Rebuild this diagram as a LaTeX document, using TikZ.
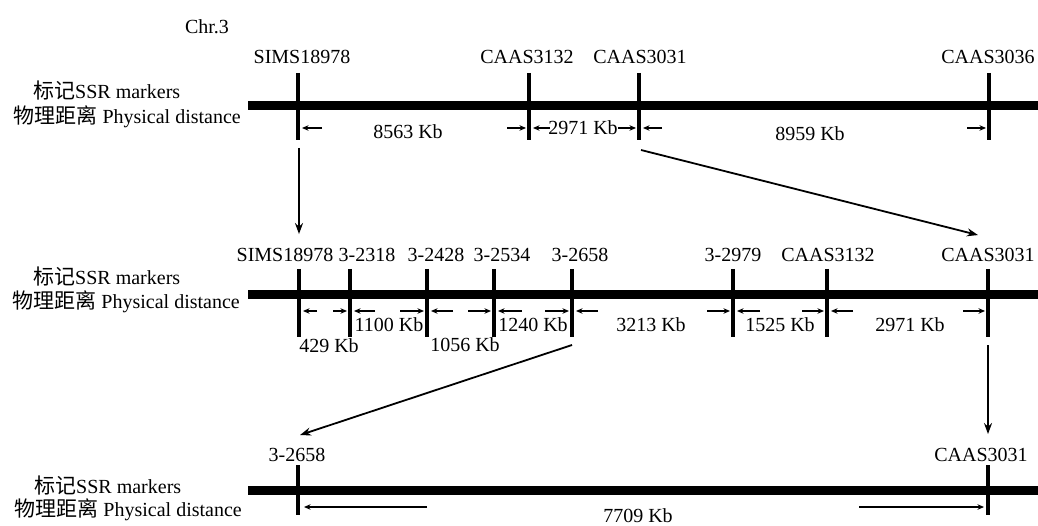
\documentclass[tikz,border=0pt]{standalone}
\usepackage{fontspec}
\setmainfont{Liberation Serif}
\newfontfamily\cjk{Noto Sans CJK SC}[Scale=1.05]
\usetikzlibrary{arrows.meta,calc}

\begin{document}
\begin{tikzpicture}[x=1pt,y=-1pt,
  every node/.style={inner sep=1pt,font=\fontsize{20}{24}\selectfont},
  chrom/.style={line width=9pt},
  mtick/.style={line width=4.2pt},
  dist/.style={-{Stealth[length=6.5pt,width=5.5pt]},line width=1.3pt},
  link/.style={-{Stealth[length=11pt,width=8pt]},line width=1.8pt}]
\useasboundingbox (0,0) rectangle (1038,526);

\node (chr) at (207,27) {Chr.3};

% row 1
\node[anchor=west] (r1a) at (32,91) {{\cjk 标记}SSR markers};
\node[anchor=east] (r1b) at (242,117) {{\cjk 物理距离} Physical distance};
\draw[chrom] (248,106) -- (1040,106);
\node (t1) at (302,57) {SIMS18978};
\node (t2) at (527,57) {CAAS3132};
\node (t3) at (640,57) {CAAS3031};
\node (t4) at (988,57) {CAAS3036};
\coordinate (a1) at (298,128);
\coordinate (a2) at (529,128);
\coordinate (a3) at (639,128);
\coordinate (a4) at (989,128);
\draw[mtick] (298,73) -- (298,140);
\draw[mtick] (529,73) -- (529,140);
\draw[mtick] (639,73) -- (639,140);
\draw[mtick] (989,73) -- (989,140);
\draw[dist] ([xshift=24pt]a1) -- ([xshift=4pt]a1);
\draw[dist] ([xshift=-22pt]a2) -- ([xshift=-3pt]a2);
\draw[dist] ([xshift=21pt]a2) -- ([xshift=4pt]a2);
\draw[dist] ([xshift=-21pt]a3) -- ([xshift=-3pt]a3);
\draw[dist] ([xshift=23pt]a3) -- ([xshift=4pt]a3);
\draw[dist] ([xshift=-22pt]a4) -- ([xshift=-3pt]a4);
\node (d1) at (408,132) {8563 Kb};
\node (d2) at (583,128) {2971 Kb};
\node (d3) at (810,134) {8959 Kb};

% row 2
\node[anchor=west] (r2a) at (32,277) {{\cjk 标记}SSR markers};
\node[anchor=east] (r2b) at (241,302) {{\cjk 物理距离} Physical distance};
\draw[chrom] (248,295) -- (1040,295);
\node (m1) at (285,255) {SIMS18978};
\node (m2) at (367,255) {3-2318};
\node (m3) at (436,255) {3-2428};
\node (m4) at (502,255) {3-2534};
\node (m5) at (580,255) {3-2658};
\node (m6) at (733,255) {3-2979};
\node (m7) at (828,255) {CAAS3132};
\node (m8) at (988,255) {CAAS3031};
\coordinate (b1) at (299,311);
\coordinate (b2) at (350,311);
\coordinate (b3) at (427,311);
\coordinate (b4) at (494,311);
\coordinate (b5) at (572,311);
\coordinate (b6) at (733,311);
\coordinate (b7) at (827,311);
\coordinate (b8) at (988,311);
\draw[mtick] (299,269) -- (299,337);
\draw[mtick] (350,269) -- (350,337);
\draw[mtick] (427,269) -- (427,337);
\draw[mtick] (494,269) -- (494,337);
\draw[mtick] (572,269) -- (572,337);
\draw[mtick] (733,269) -- (733,337);
\draw[mtick] (827,269) -- (827,337);
\draw[mtick] (988,269) -- (988,337);
\draw[dist] ([xshift=18pt]b1) -- ([xshift=4pt]b1);
\draw[dist] ([xshift=-17pt]b2) -- ([xshift=-3pt]b2);
\draw[dist] ([xshift=25pt]b2) -- ([xshift=4pt]b2);
\draw[dist] ([xshift=-27pt]b3) -- ([xshift=-3pt]b3);
\draw[dist] ([xshift=26pt]b3) -- ([xshift=4pt]b3);
\draw[dist] ([xshift=-26pt]b4) -- ([xshift=-3pt]b4);
\draw[dist] ([xshift=28pt]b4) -- ([xshift=4pt]b4);
\draw[dist] ([xshift=-27pt]b5) -- ([xshift=-3pt]b5);
\draw[dist] ([xshift=26pt]b5) -- ([xshift=4pt]b5);
\draw[dist] ([xshift=-26pt]b6) -- ([xshift=-3pt]b6);
\draw[dist] ([xshift=27pt]b6) -- ([xshift=4pt]b6);
\draw[dist] ([xshift=-25pt]b7) -- ([xshift=-3pt]b7);
\draw[dist] ([xshift=26pt]b7) -- ([xshift=4pt]b7);
\draw[dist] ([xshift=-25pt]b8) -- ([xshift=-3pt]b8);
\node (e1) at (329,346) {429 Kb};
\node (e2) at (389,325) {1100 Kb};
\node (e3) at (465,345) {1056 Kb};
\node (e4) at (533,325) {1240 Kb};
\node (e5) at (651,325) {3213 Kb};
\node (e6) at (780,325) {1525 Kb};
\node (e7) at (910,325) {2971 Kb};

% row 3
\node[anchor=west] (r3a) at (33,486) {{\cjk 标记}SSR markers};
\node[anchor=east] (r3b) at (243,510) {{\cjk 物理距离} Physical distance};
\draw[chrom] (248,490) -- (1040,490);
\node (n1) at (297,455) {3-2658};
\node (n2) at (981,455) {CAAS3031};
\coordinate (c1) at (298,507);
\coordinate (c2) at (988,507);
\draw[mtick] (298,465) -- (298,515);
\draw[mtick] (988,465) -- (988,515);
\draw[dist] ([xshift=129pt]c1) -- ([xshift=6pt]c1);
\draw[dist] ([xshift=-129pt]c2) -- ([xshift=-4pt]c2);
\node (f1) at (638,516) {7709 Kb};

% links between rows
\draw[link] ($(a1)+(1,20)$) -- ($(b1 |- m1.north)+(0,-13)$);
\draw[link] ($(a3)+(2,22)$) -- ($(m8.north)+(-10,-12)$);
\draw[link] ($(b5)+(0,34)$) -- ($(n1.north)+(3,-12)$);
\draw[link] ($(b8)+(0,34)$) -- ($(b8 |- n2.north)+(0,-13)$);
\end{tikzpicture}
\end{document}
